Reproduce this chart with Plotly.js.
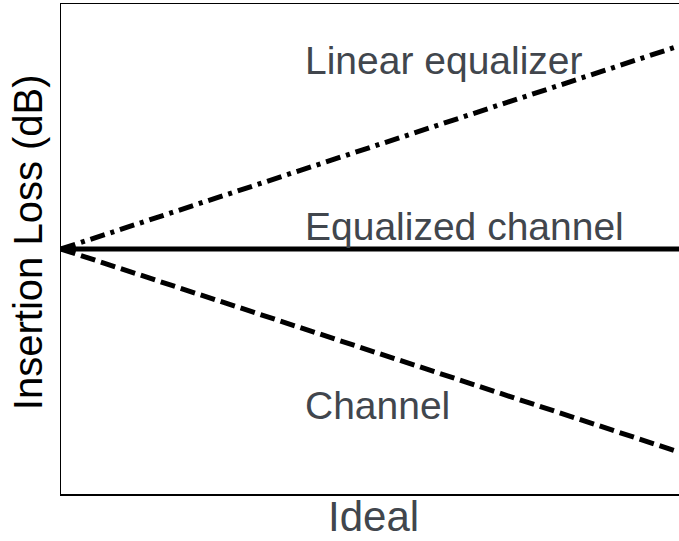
<!DOCTYPE html>
<html><head><meta charset="utf-8">
<script src="https://cdn.plot.ly/plotly-3.0.1.min.js"></script>
<style>body{margin:0;padding:0;overflow:hidden}</style>
</head><body>
<div id="chart" style="width:679px;height:541px"></div>
<script>
const xVals = [0, 10];
const linearEqualizer = [0, 6.63];
const equalizedChannel = [0, 0];
const channel = [0, -6.63];
const labels = ["Linear equalizer", "Equalized channel", "Channel"];
const xTitle = "Ideal";
const yTitle = "Insertion Loss (dB)";

const traces = [
  {x: xVals, y: linearEqualizer, mode: 'lines', line: {color: '#000', width: 5, dash: '15px,6px,4px,6px'}},
  {x: xVals, y: equalizedChannel, mode: 'lines', line: {color: '#000', width: 5}},
  {x: xVals, y: channel, mode: 'lines', line: {color: '#000', width: 5, dash: '15px,6px'}}
];
const txtColor = '#41464d';
const fam = 'Liberation Sans, Arial, sans-serif';
const layout = {
  width: 679, height: 541,
  margin: {l: 61, r: 0, t: 4, b: 47},
  showlegend: false,
  paper_bgcolor: '#fff', plot_bgcolor: '#fff',
  font: {family: fam},
  xaxis: {range: [0, 10], showgrid: false, zeroline: false, showticklabels: false, ticks: '',
    showline: true, linecolor: '#000', linewidth: 1.5, mirror: true},
  yaxis: {range: [-8, 8], showgrid: false, zeroline: false, showticklabels: false, ticks: '',
    showline: true, linecolor: '#000', linewidth: 1.5, mirror: false},
  annotations: [
    {text: labels[0], xref: 'paper', yref: 'paper', x: 0.392, y: 0.885, xanchor: 'left', yanchor: 'middle', showarrow: false, font: {size: 39, color: txtColor}},
    {text: labels[1], xref: 'paper', yref: 'paper', x: 0.392, y: 0.546, xanchor: 'left', yanchor: 'middle', showarrow: false, font: {size: 39, color: txtColor}},
    {text: labels[2], xref: 'paper', yref: 'paper', x: 0.392, y: 0.181, xanchor: 'left', yanchor: 'middle', showarrow: false, font: {size: 39, color: txtColor}},
    {text: xTitle, xref: 'paper', yref: 'paper', x: 0.505, y: -0.0955, xanchor: 'center', yanchor: 'bottom', borderpad: 0, showarrow: false, font: {size: 42, color: txtColor}},
    {text: yTitle, xref: 'paper', yref: 'paper', x: -0.0534, y: 0.514, xanchor: 'center', yanchor: 'middle', textangle: -90, showarrow: false, font: {size: 40, color: '#000'}}
  ]
};
Plotly.newPlot('chart', traces, layout, {displayModeBar: false, staticPlot: true});
</script>
</body></html>
